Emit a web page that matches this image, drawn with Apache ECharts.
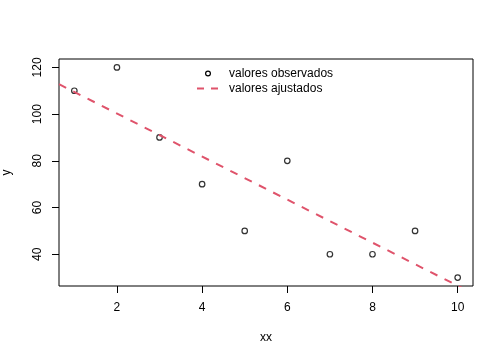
<!DOCTYPE html>
<html>
<head>
<meta charset="utf-8">
<script src="https://cdn.jsdelivr.net/npm/echarts@6/dist/echarts.min.js"></script>
<style>html,body{margin:0;padding:0;background:#fff}#c{width:504px;height:360px}</style>
</head>
<body>
<div id="c"></div>
<script>
// observed values
var xx = [1, 2, 3, 4, 5, 6, 7, 8, 9, 10];
var y = [110, 120, 90, 70, 50, 80, 40, 40, 50, 30];
// fitted line (abline) end points
var ajusteX = [0.64, 10.36];
var ajusteY = [112.8, 23.2];
// ticks
var xTicks = [2, 4, 6, 8, 10];
var yTicks = [40, 60, 80, 100, 120];
var legendLabels = ['valores observados', 'valores ajustados'];

var FONT = 'Liberation Sans, Arial, sans-serif';
var obs = xx.map(function (v, i) { return [v, y[i]]; });
var fit = ajusteX.map(function (v, i) { return [v, ajusteY[i]]; });

var chart = echarts.init(document.getElementById('c'), null, {renderer: 'canvas'});
chart.setOption({
  animation: false,
  backgroundColor: '#fff',
  grid: {left: 59, right: 31, top: 59, bottom: 74, containLabel: false, outerBoundsMode: 'none',
         show: true, borderColor: '#000', borderWidth: 1, backgroundColor: 'transparent'},
  xAxis: {
    type: 'value', min: 0.64, max: 10.36,
    name: 'xx', nameLocation: 'middle', nameGap: 46,
    nameTextStyle: {fontFamily: FONT, fontSize: 12, color: '#000'},
    axisLine: {show: false},
    splitLine: {show: false},
    axisTick: {show: true, inside: false, length: 7, lineStyle: {color: '#000', width: 1}, customValues: xTicks},
    axisLabel: {fontFamily: FONT, fontSize: 12, color: '#000', margin: 16, customValues: xTicks}
  },
  yAxis: {
    type: 'value', min: 26.4, max: 123.6,
    name: 'y', nameLocation: 'middle', nameGap: 46, nameRotate: 90,
    nameTextStyle: {fontFamily: FONT, fontSize: 12, color: '#000'},
    axisLine: {show: false},
    splitLine: {show: false},
    axisTick: {show: true, inside: false, length: 7, lineStyle: {color: '#000', width: 1}, customValues: yTicks},
    axisLabel: {fontFamily: FONT, fontSize: 12, color: '#000', margin: 15, rotate: 90, customValues: yTicks}
  },
  series: [
    {
      name: legendLabels[0], type: 'scatter', data: obs,
      symbol: 'circle', symbolSize: 5.5,
      itemStyle: {color: '#fff', borderColor: '#000', borderWidth: 1.2}
    },
    {
      name: legendLabels[1], type: 'line', data: fit, clip: true,
      showSymbol: false, symbol: 'none',
      lineStyle: {color: '#DF536B', width: 2, type: [8, 8]}
    }
  ],
  graphic: [
    {type: 'circle', shape: {cx: 208, cy: 73.5, r: 2.4}, style: {fill: '#fff', stroke: '#000', lineWidth: 1.2}},
    {type: 'line', shape: {x1: 197, y1: 88.5, x2: 219, y2: 88.5}, style: {stroke: '#DF536B', lineWidth: 2, lineDash: [7, 7]}},
    {type: 'text', left: 229, top: 67.5, style: {text: legendLabels[0], fontFamily: FONT, fontSize: 12, fill: '#000'}},
    {type: 'text', left: 229, top: 82.5, style: {text: legendLabels[1], fontFamily: FONT, fontSize: 12, fill: '#000'}}
  ]
});
</script>
</body>
</html>
